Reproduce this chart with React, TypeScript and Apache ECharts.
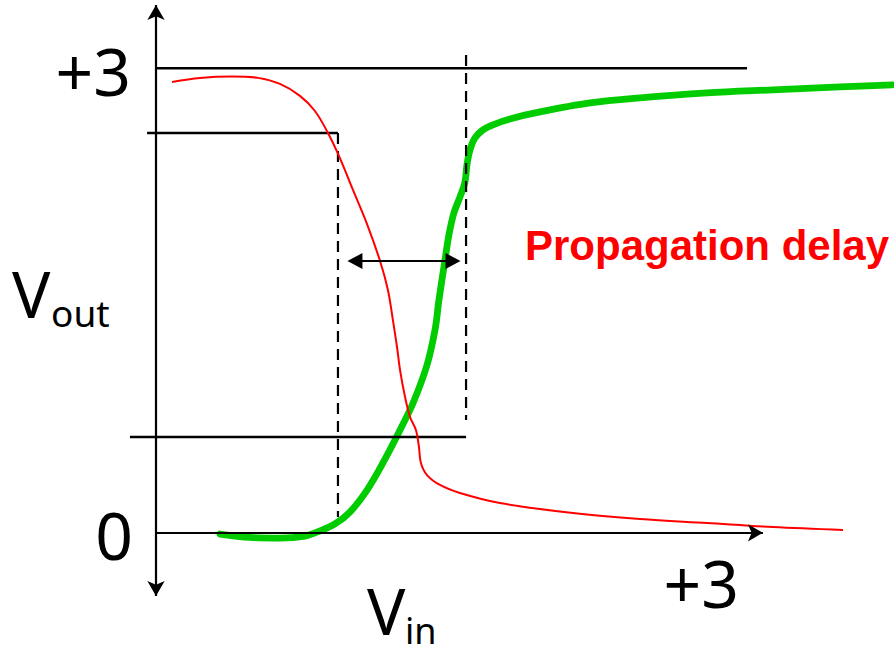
import React, { useEffect, useRef } from "react";
import * as echarts from "echarts";

// Output (red) transfer curve: Vin -> Vout
const redX = [0.09, 0.247, 0.426, 0.572, 0.695, 0.807, 0.891, 0.964, 1.031, 1.104, 1.183, 1.256, 1.3, 1.328, 1.351, 1.368, 1.396, 1.424, 1.457, 1.474, 1.485, 1.519, 1.592, 1.704, 1.928, 2.337, 2.713, 3.088, 3.458, 3.851];
const redY = [2.912, 2.938, 2.947, 2.938, 2.899, 2.822, 2.724, 2.582, 2.42, 2.214, 1.994, 1.755, 1.568, 1.374, 1.2, 1.051, 0.877, 0.748, 0.664, 0.554, 0.451, 0.373, 0.309, 0.257, 0.192, 0.128, 0.089, 0.063, 0.037, 0.018];

// Delayed (green) curve
const greenX = [0.359, 0.527, 0.695, 0.835, 0.919, 1.003, 1.087, 1.183, 1.272, 1.368, 1.441, 1.519, 1.564, 1.586, 1.62, 1.642, 1.67, 1.704, 1.732, 1.743, 1.76, 1.788, 1.833, 1.9, 1.984, 2.152, 2.433, 2.713, 3.088, 3.458, 3.834, 4.126];
const greenY = [-0.008, -0.03, -0.034, -0.021, 0.012, 0.057, 0.134, 0.276, 0.451, 0.664, 0.838, 1.083, 1.31, 1.503, 1.762, 1.924, 2.066, 2.169, 2.266, 2.376, 2.472, 2.55, 2.602, 2.64, 2.673, 2.718, 2.776, 2.809, 2.841, 2.861, 2.88, 2.893];

// Reference levels
const railHigh = 3;
const railEndX = 3.313;
const vHighThreshold = 2.582;
const vLowThreshold = 0.619;
const highLineStartX = -0.05;
const lowLineStartX = -0.146;
const tHighX = 1.02;
const tLowX = 1.738;
const dashHighBottomY = 0.102;
const dashLowTopY = 3.086;
const dashLowBottomY = 0.728;
const delayArrowY = 1.755;
const delayArrowX = [1.115, 1.665];

// Drawn axes (with arrows) and the plotting window
const xAxisEnd = 3.402;
const yAxisLow = -0.408;
const yAxisHigh = 3.409;
const xMin = -0.8744;
const xMax = 4.1368;
const yMin = -0.7892;
const yMax = 3.441;

const zip = (xs: number[], ys: number[]) => xs.map((x, i) => [x, ys[i]]);

const blackLine = (data: number[][], dashed = false, z = 3) => ({
  type: "line",
  data,
  symbol: "none",
  clip: false,
  silent: true,
  z,
  lineStyle: { color: "#000", width: dashed ? 2.2 : 2.4, type: dashed ? [11, 7] : "solid" },
});

const noto = "'Noto Sans', 'DejaVu Sans', sans-serif";

export default function App() {
  const ref = useRef<HTMLDivElement>(null);
  useEffect(() => {
    const chart = echarts.init(ref.current!, null, { renderer: "svg" });
    const hiddenAxis = {
      type: "value",
      axisLine: { show: false },
      axisTick: { show: false },
      axisLabel: { show: false },
      splitLine: { show: false },
    };
    const option: any = {
      animation: false,
      backgroundColor: "#fff",
      grid: { left: 0, right: 0, top: 0, bottom: 0 },
      xAxis: { ...hiddenAxis, min: xMin, max: xMax },
      yAxis: { ...hiddenAxis, min: yMin, max: yMax },
      series: [
        {
          type: "line",
          name: "Vin delayed",
          data: zip(greenX, greenY),
          symbol: "none",
          smooth: 0.35,
          clip: false,
          silent: true,
          z: 2,
          lineStyle: { color: "#00cc00", width: 6.8, cap: "round" },
        },
        {
          ...blackLine([[0, railHigh], [railEndX, railHigh]]),
          markLine: {
            silent: true,
            symbol: ["none", "arrow"],
            symbolSize: [13, 15],
            label: { show: false },
            lineStyle: { color: "#000", width: 2.2, type: "solid" },
            data: [
              [{ coord: [0, 0], symbol: "none" }, { coord: [xAxisEnd, 0], symbol: "arrow" }],
              [{ coord: [0, yAxisLow], symbol: "arrow" }, { coord: [0, yAxisHigh], symbol: "arrow" }],
            ],
          },
        },
        blackLine([[highLineStartX, vHighThreshold], [tHighX, vHighThreshold]]),
        blackLine([[tHighX, vHighThreshold], [tHighX, dashHighBottomY]], true),
        blackLine([[lowLineStartX, vLowThreshold], [tLowX, vLowThreshold]]),
        blackLine([[tLowX, dashLowTopY], [tLowX, dashLowBottomY]], true),
        {
          type: "line",
          name: "Vout",
          data: zip(redX, redY),
          symbol: "none",
          smooth: 0.35,
          clip: false,
          silent: true,
          z: 4,
          lineStyle: { color: "#ff0000", width: 2 },
          markLine: {
            silent: true,
            symbol: ["triangle", "triangle"],
            symbolSize: [16, 15],
            label: { show: false },
            lineStyle: { color: "#000", width: 2.2, type: "solid" },
            data: [
              [
                { coord: [delayArrowX[0], delayArrowY] },
                { coord: [delayArrowX[1], delayArrowY] },
              ],
            ],
          },
        },
      ],
      graphic: [
        {
          type: "text",
          x: 131,
          y: 69.5,
          style: { text: "+3", fontSize: 66, fontFamily: noto, fill: "#000", align: "right", verticalAlign: "middle" },
        },
        {
          type: "text",
          x: 133,
          y: 533.5,
          style: { text: "0", fontSize: 66, fontFamily: noto, fill: "#000", align: "right", verticalAlign: "middle" },
        },
        {
          type: "text",
          x: 739,
          y: 581.5,
          style: { text: "+3", fontSize: 66, fontFamily: noto, fill: "#000", align: "right", verticalAlign: "middle" },
        },
        {
          type: "text",
          x: 12,
          y: 293,
          style: { text: "V", fontSize: 64, fontFamily: noto, fill: "#000", align: "left", verticalAlign: "middle" },
        },
        {
          type: "text",
          x: 51,
          y: 312.5,
          style: { text: "out", fontSize: 37, fontFamily: noto, fill: "#000", align: "left", verticalAlign: "middle" },
        },
        {
          type: "text",
          x: 367,
          y: 610.5,
          style: { text: "V", fontSize: 64, fontFamily: noto, fill: "#000", align: "left", verticalAlign: "middle" },
        },
        {
          type: "text",
          x: 405,
          y: 630,
          style: { text: "in", fontSize: 36, fontFamily: noto, fill: "#000", align: "left", verticalAlign: "middle" },
        },
        {
          type: "text",
          x: 525,
          y: 245,
          style: {
            text: "Propagation delay",
            fontSize: 42,
            fontWeight: "bold",
            fontFamily: "'Liberation Sans', Arial, sans-serif",
            fill: "#ff0000",
            align: "left",
            verticalAlign: "middle",
          },
        },
      ],
    };
    chart.setOption(option);
    return () => chart.dispose();
  }, []);
  return (
    <div
      ref={ref}
      style={{ position: "absolute", left: 0, top: 0, width: 894, height: 655 }}
    />
  );
}
